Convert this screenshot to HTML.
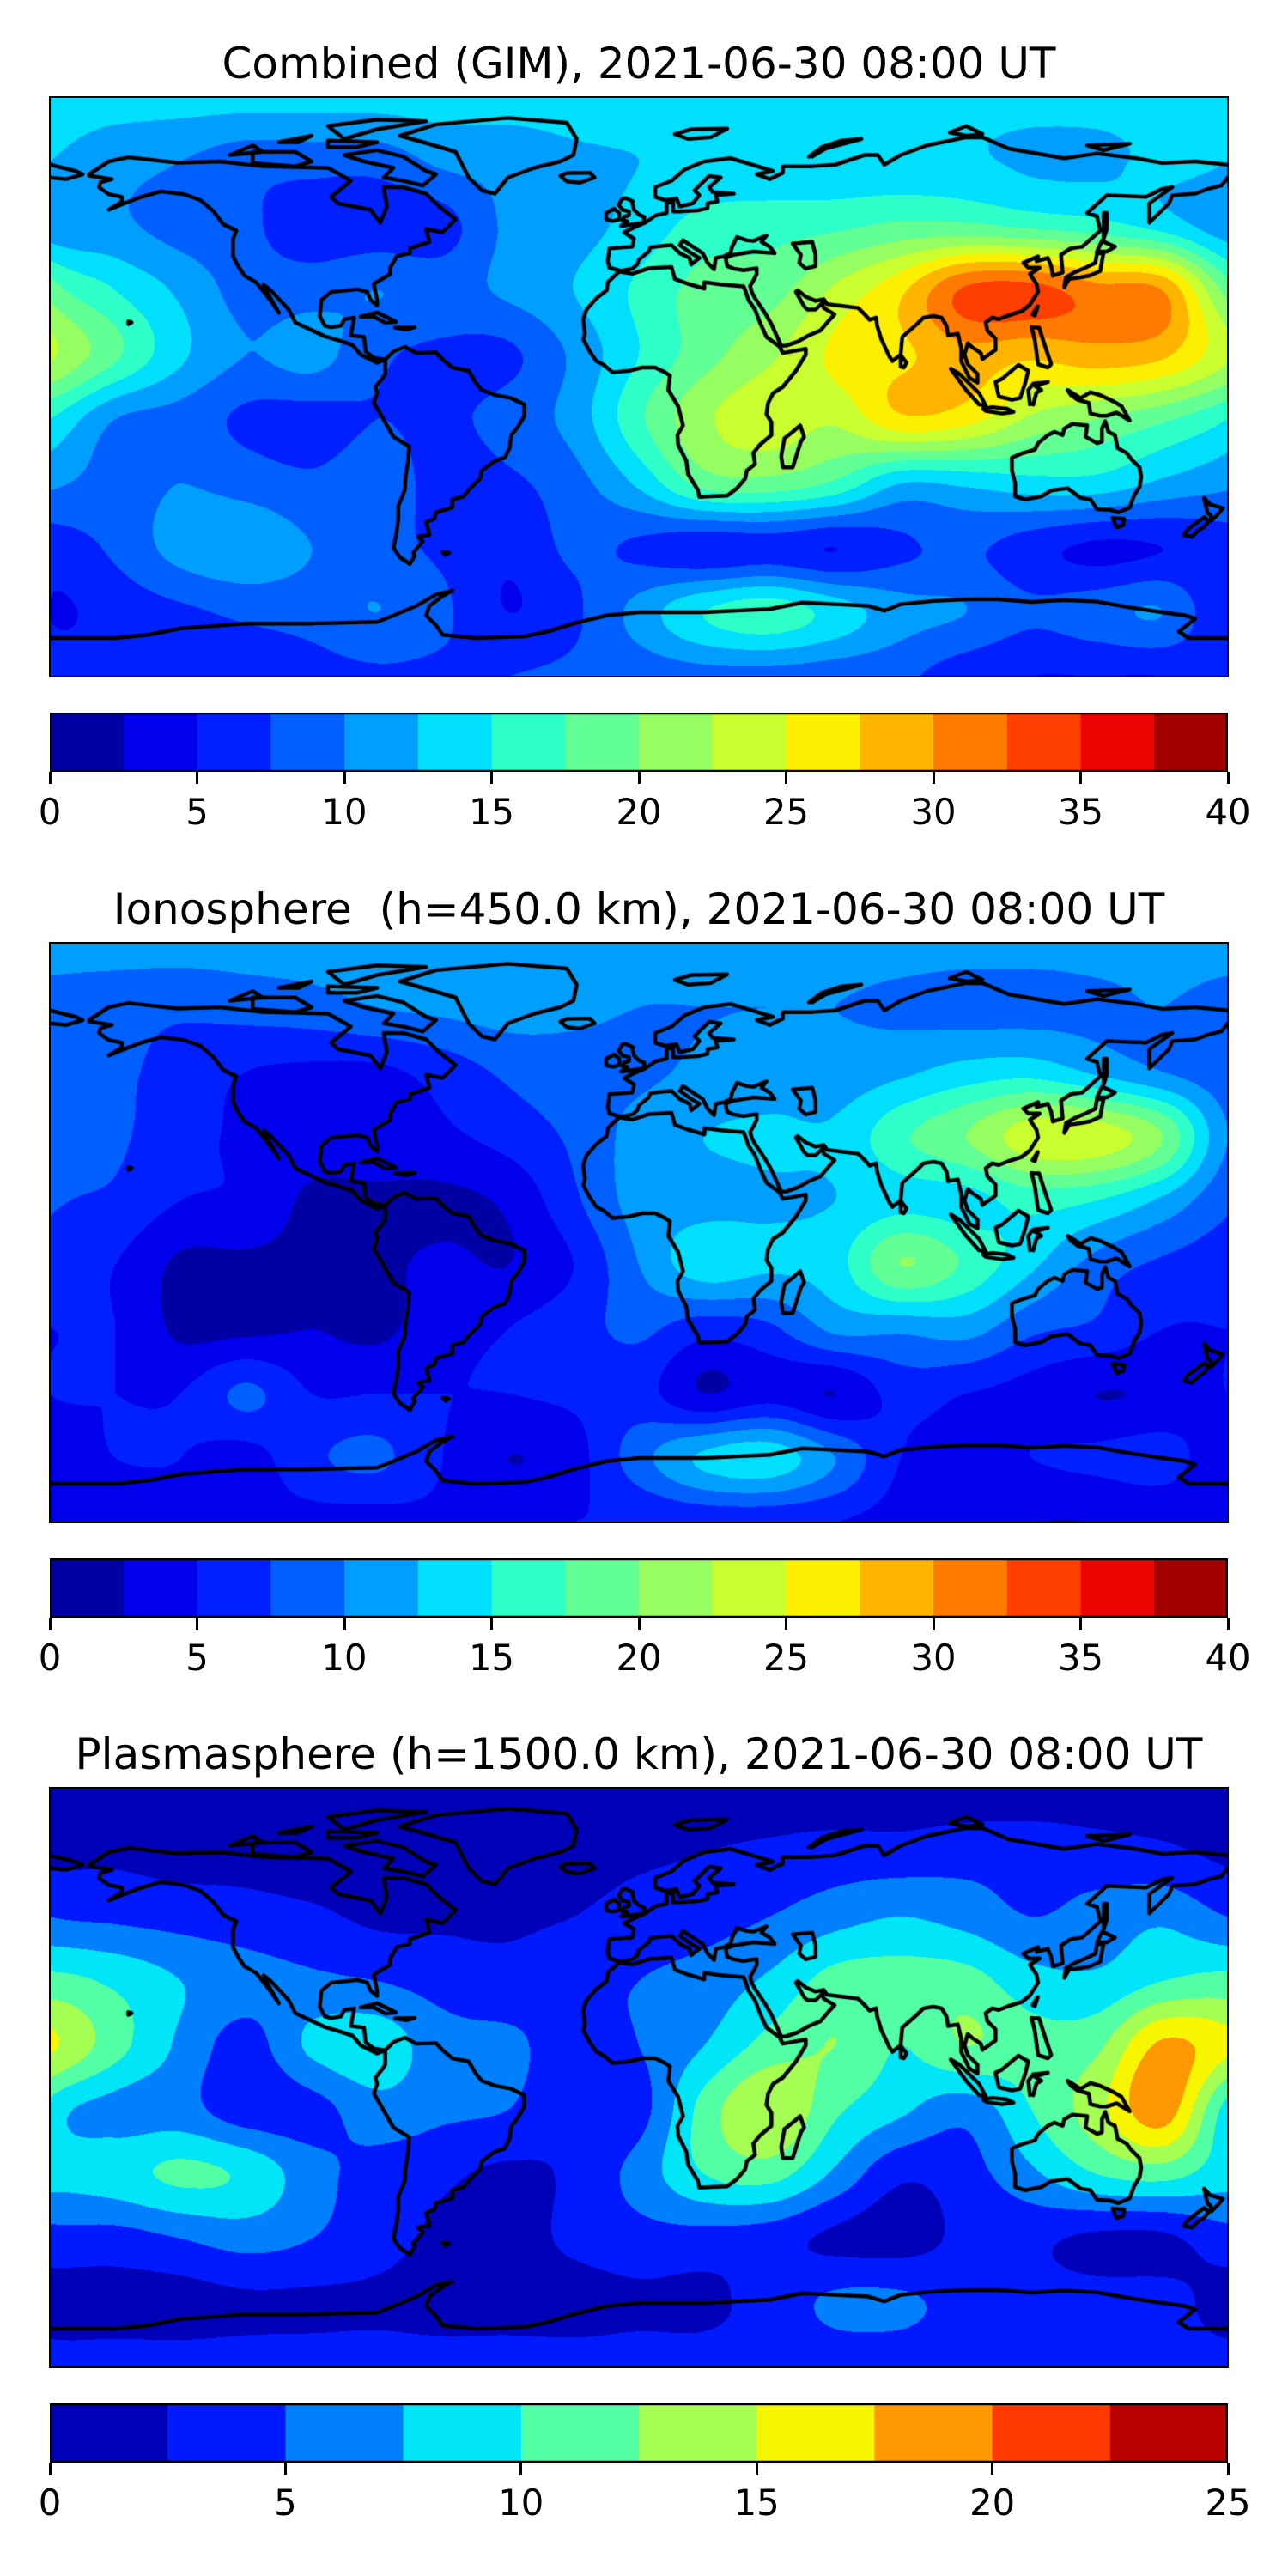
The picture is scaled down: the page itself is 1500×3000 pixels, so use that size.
<!DOCTYPE html>
<html>
<head>
<meta charset="utf-8">
<style>
  html,body{margin:0;padding:0;background:#fff;}
  body{width:1500px;height:3000px;position:relative;overflow:hidden;font-family:"DejaVu Sans","Liberation Sans",sans-serif;color:#000;}
  .title{position:absolute;left:0;width:1488px;text-align:center;font-size:50px;line-height:1.2;white-space:pre;}
  .map{position:absolute;left:58px;width:1372px;height:675px;}
  .map canvas{position:absolute;left:0;top:0;}
  .frame{position:absolute;left:-1px;top:-1px;width:1370px;height:673px;border:2px solid #000;}
  .cbar{position:absolute;left:58px;width:1372px;height:69px;}
  .tick{position:absolute;width:3px;height:14px;background:#000;}
  .tlab{position:absolute;font-size:41.7px;line-height:1.2;transform:translateX(-50%);white-space:nowrap;}
</style>
</head>
<body>
<div id="root"></div>
<script>
// ---------- DATA ----------
const lons = [-180,-160,-140,-120,-100,-80,-60,-40,-20,0,20,40,60,80,100,120,140,160,180];
const lats = [90,70,50,30,10,-10,-30,-50,-70,-90];

const combinedValues = [
 [13.5,13.5,13.5,13.5,13.5,13.5,13.5,13.5,13.5,13.5,13.5,13.5,13.5,13.5,13.5,13.5,13.5,13.5,13.5],
 [12.5,11,10,8.5,8.5,8.5,10.5,11,12,12.5,13,13,13,13,13,12,12,13,12.5],
 [11,10.5,9,8,6,6,6.5,10.5,11.5,13.5,16,16.5,17,18,18,17,16,14,12],
 [19,15,12,9,9,10,9,10.5,12.5,15.5,18.5,19,23,27,33,33.5,31,30,19],
 [23,18,13,10,11,8,7,7,10.5,15,19,22,25.5,27,29,28,29,28,23],
 [15,10,9,7,6.5,7.5,7,8.5,11,17,22,24,23,27,26,22,20,18,15],
 [10.5,9,10,9,8,9,6.5,7,9,13,18.5,19,17,12.5,13,14,14,12,10.5],
 [6,8,11,12,10,8.5,7,5.5,8,7,5.5,6,5,7,8,6,4.5,5,6],
 [5,6,7,8,8.5,10,8,5,7,11,15,16.5,14,11,10,8,9,10,5],
 [6,6,6,6,6.5,7,7,7.5,8,8.5,9,9,8.5,8,6,5,5,5,6]
];
const ionoValues = [
 [11,11,11,11,11,11,11,11,11,11,11,11,11,11,11,11,11,11,11],
 [9,8.5,8,8.5,9,10,10.5,11,10.5,10,10,10,10,9.5,9,9,9.5,10,9],
 [8.5,8,6.5,5,4.5,4.5,6,8,9,9.5,10.5,11,11,12,13.5,14,12,10,8.5],
 [10,8,6,4.5,4,4,4.5,6,8,11,12.5,13,13,17,20,24,24,20,10],
 [8,7,5,4.5,2,2,2,3,7,11,11.5,12,12.5,14,14,16,15,12,8],
 [6,5,2,2,2,2,3,2.5,5,10,14,13,14,20,17,13,9,7,6],
 [5,5,2,2,2.5,2,4,5,6.5,8,6,7,10.5,10.5,11,8,7,5,5],
 [5,5,5,8,5,5,5,5,5.5,6,2.5,4,2.5,6,5,4,2.5,3,5],
 [3.5,5,5,4,7,8,5,2.5,4,9,13,14,10,5,4,5,5.5,6,3.5],
 [3,3,4,4,4,4,4.5,4.5,5,5,5.5,5.5,5,4,3,2.5,2.5,3,3]
];
const plasmaValues = [
 [1,1,1,1,1,1,1,1,1,1,1,1,1,1,1,1,1,1,1],
 [2,2,1.5,1.5,1,1,1,1.5,1.5,2,2.5,3,3.5,3.5,4,4,3.5,3,2],
 [5,4.5,4,3.5,3,2,2,2,2.5,3.5,4,5,6.5,7.5,6.5,5,6,7,5],
 [10.8,9.5,7.5,6,5.5,5,4,3.5,4.5,5,6,8,11,11,11,8.5,8,10,10.8],
 [15.5,11,7,4,8,9,6,5.5,4,5,7.5,11,12.5,10,12.5,11,12,18,15.5],
 [9,6.5,6,3.5,4,6.5,5.5,5,3,4,11,15,10.5,8,6,10,14,19,9],
 [8.5,9,10.5,9.5,6,4,3,2,3,6,10,11,7,3,4,7,10,11,8.5],
 [4,4,5,6,5,3.5,2,1.5,3,4,4,3.5,2,1.5,3,3,2,2,4],
 [1.5,1.5,1.5,2,2,2,1.5,1.5,1.5,2,2,3.5,5.5,5.5,4,3.5,3.5,3.5,1.5],
 [3.5,3.5,3.5,3.5,3.5,3.5,3.5,3.5,3.5,3.5,3.5,3.5,3.5,3.5,3.5,3.5,3.5,3.5,3.5]
];
const levelsCombined = [0,2.5,5,7.5,10,12.5,15,17.5,20,22.5,25,27.5,30,32.5,35,37.5,40];
const levelsIono = [0,2.5,5,7.5,10,12.5,15,17.5,20,22.5,25,27.5,30,32.5,35,37.5,40];
const levelsPlasma = [0,2.5,5,7.5,10,12.5,15,17.5,20,22.5,25];
const ticksCombined = [0,5,10,15,20,25,30,35,40];
const ticksIono = [0,5,10,15,20,25,30,35,40];
const ticksPlasma = [0,5,10,15,20,25];
const titles = ["Combined (GIM), 2021-06-30 08:00 UT","Ionosphere  (h=450.0 km), 2021-06-30 08:00 UT","Plasmasphere (h=1500.0 km), 2021-06-30 08:00 UT"];

// ---------- COASTLINES (lon,lat geometry) ----------
const coasts = [
 [[-168,66],[-162,70],[-156,71.3],[-141,69.6],[-128,70],[-115,68.5],[-95,68],[-88,64],[-94,59],[-92,57],[-82,55],[-79,51],[-77,56],[-78,62],[-72,62],[-65,60],[-61,56],[-56,52],[-60,48],[-65,49],[-64,45],[-70,43],[-70,41.5],[-74,40.5],[-76,37],[-76,35],[-81,32],[-80,27],[-80,25.3],[-82,27],[-83,29.5],[-86,30.3],[-89,30],[-94,29.5],[-97,27],[-97.5,22],[-96,19],[-94,18.5],[-91,19],[-90,21],[-87,21.5],[-88,16],[-84,15.5],[-83.5,11],[-81,9],[-77.5,8.5],[-80,7.5],[-82,8.5],[-85,10],[-87.5,13],[-92,14.5],[-96,15.7],[-105,20],[-107,24],[-112.5,30],[-114.7,31.7],[-114,30],[-110,23],[-112,26],[-115,30],[-117,32.5],[-120.5,34.5],[-122.5,37.5],[-124,40.5],[-124,46],[-123,48.5],[-127,50.5],[-130,54.5],[-134,58],[-139,59.8],[-146,60.7],[-152,59],[-156,57.5],[-162,55],[-158,57.5],[-158,59],[-162,59.8],[-165,62],[-164.5,63.5],[-161,64.5],[-168,65.6]],
 [[-90,72],[-80,73.5],[-72,71.5],[-65,67],[-62,66],[-66,62.5],[-72,64],[-78,65],[-75,68],[-84,70],[-90,72]],
 [[-118,73],[-105,73],[-100,70],[-105,68.5],[-118,69.5],[-118,73]],
 [[-90,77],[-80,80],[-65,82.5],[-80,83],[-95,81],[-90,77]],
 [[-125,72],[-118,75],[-115,73],[-125,72]],
 [[-95,76.5],[-80,76],[-86,74.5],[-95,74.5],[-95,76.5]],
 [[-110,76],[-100,78],[-104,76],[-110,76]],
 [[-73,78],[-62,81.5],[-40,83.5],[-22,82],[-19,77],[-20,72],[-24,70],[-32,68],[-40,65],[-44,60],[-48,61],[-52,65],[-54,69],[-56,73],[-66,76],[-73,78]],
 [[-24,65.5],[-22,66.4],[-15,66.5],[-13.5,65],[-18,63.4],[-22,63.8],[-24,65.5]],
 [[-85,21.8],[-80,23.1],[-74.2,20.2],[-77.5,19.9],[-81,21.8],[-85,21.8]],
 [[-74.5,18.4],[-68.5,18.5],[-71,17.8],[-74.5,18.4]],
 [[-156,19.5],[-155,20],[-156,20.3],[-156,19.5]],
 [[-77.5,8.5],[-75,11],[-71.5,12.4],[-68,10.5],[-62,10.7],[-60,8.5],[-57,6],[-52,5],[-50,1.5],[-48,-1],[-44,-2.5],[-39,-3.5],[-35,-5.5],[-35,-9],[-37,-12.5],[-39,-15],[-39.5,-19],[-41,-22],[-44,-23],[-48,-26],[-48.5,-28.5],[-52,-32],[-53.5,-34],[-57,-35],[-57,-37.5],[-62,-39],[-62.5,-41],[-65,-42],[-64,-46],[-67.5,-46.5],[-66,-48],[-69,-51.5],[-68.5,-52.5],[-70,-55],[-73,-53],[-75,-50],[-74,-45],[-73.5,-41],[-73.5,-37],[-71.5,-32],[-71.3,-28],[-70.5,-23],[-70.2,-18.5],[-75,-15.5],[-77,-12],[-79.5,-7.5],[-81,-5],[-80,-2],[-80.5,0],[-78.5,2.5],[-77.5,4],[-77.5,6.5],[-77.5,8.5]],
 [[-60,-51.3],[-58,-51.5],[-59,-52.2],[-60,-51.3]],
 [[-17,21],[-16,24],[-13,27.5],[-9.8,30],[-9.5,32.5],[-6,35.8],[-2,35.1],[3,36.8],[10,37.2],[11,33.5],[15,32],[20,30.5],[20,32.5],[25,31.8],[32,31.2],[32.5,30],[33.5,27],[35.5,24],[37,20],[39,15.5],[43,12.5],[44,10.5],[51,11.8],[51,10],[48,5],[44,0],[41,-2],[39.5,-5],[39,-8.5],[40.5,-11],[40.5,-15],[37,-18],[35,-20.5],[35.5,-24],[33,-26],[32.5,-28.5],[30,-31.5],[27,-33.8],[22,-34],[18.5,-34.2],[18,-32],[15,-27],[14.5,-23],[12,-18],[11.8,-15],[13.5,-12],[12,-6],[9,-1],[9.5,3.5],[8,4.5],[5,6],[1,6],[-3,5],[-8,4.5],[-11,7],[-13,8],[-15,11],[-17,14.7],[-16.5,16.5],[-17,21]],
 [[49.3,-12],[50.5,-15.5],[49.5,-17],[47,-25],[44,-25],[43.5,-21.5],[44.5,-16],[47,-14],[49.3,-12]],
 [[-9,37],[-9.5,39],[-9,43],[-2,43.5],[-1.5,46],[-4.5,48],[-1.5,49.5],[2,51],[5,53.2],[8.5,54],[8.5,57],[10.5,57.7],[10.5,54.5],[13,54.5],[18,54.8],[21,55.5],[21,57],[24,57.5],[23.5,59.5],[29,60],[22.5,60.5],[21.5,62],[25,65],[21.5,65.5],[17,61],[18.5,59.5],[16.5,57],[12.5,56],[11.5,58.5],[8,58],[5,59],[5,62],[10,64],[14,67.5],[20,70],[28,71],[33,69.5],[41,67],[36,66],[40,64.5],[44,66.5],[44,68.5],[53,68.5],[60,69],[69,72],[73,72],[75,69],[80,72],[88,75],[100,77.5],[105,77.5],[113,74],[130,71],[140,72.5],[152,71],[160,69.5],[170,70],[180,69]],
 [[-180,69],[-172,67],[-170,66],[-175,64.5],[-180,65]],
 [[180,65],[178,62.5],[174,61.5],[170,60],[163,59.5],[162,57],[156,51],[156,57],[163,62],[160,61.5],[155,59],[143,59.5],[137,54],[140,53],[141,48.5],[135.5,43.5],[132,43],[129,41],[129.5,35.5],[126.5,34.5],[126,37.5],[125,40],[121.5,39],[122,40.5],[117.5,38.5],[119,37],[122.5,37],[119.5,35],[121.5,32],[122,29.5],[119.5,25.5],[117,23.5],[113,22.2],[110,21],[108,21.5],[106,20],[106.5,17.5],[109,15],[109,11.5],[105,8.6],[104.5,10.5],[102,12.2],[100.5,13.5],[99.5,10],[100.5,7],[103.5,4],[103.5,1.3],[101,2.8],[98.5,8],[98.5,12],[97.5,16.5],[94.5,16],[94,19],[92.5,21.5],[90,22],[87,21.5],[85,19.5],[80.5,15.5],[80,10],[77.5,8],[76.5,9.5],[74,15],[72.8,19],[72.5,21.5],[70.5,20.8],[69,22.5],[67,24.5],[61.5,25.2],[57.5,25.7],[56.5,27.2],[54,26.7],[51,28],[48.5,30],[48,29.5],[50.5,25],[51.5,24],[54,24],[56,26],[56.5,24.5],[59.8,22.5],[58,20.5],[55.5,17.5],[52,16],[48.5,14],[45,12.8],[43.5,12.7],[42.5,15],[40.5,19.5],[38.5,23],[35.2,28],[34.5,29.5],[34,31.3],[35,33],[36,35],[36,36.8],[32,36.2],[29,36.7],[27,37.5],[26.5,40],[29,41],[35,42],[41.5,41.5],[40,43.5],[37.5,45],[39,47],[35,45.3],[33,45.5],[30,46.5],[28.5,43.5],[28,41.5],[26,40.5],[23.5,40],[23,36.5],[21,38.5],[19.5,41.5],[16.5,43.5],[13.5,45.5],[12.5,44],[16,41.5],[18.5,40],[16,38],[15.5,40],[12.5,41.5],[10,44],[7.5,43.8],[3.5,43.3],[3,42],[0,39.5],[-0.5,38],[-2,36.7],[-5.5,36],[-9,37]],
 [[47,44.5],[53,45],[54,41],[54,37.5],[51,36.7],[49,38.5],[49.5,41],[47,44.5]],
 [[-5,50],[1.5,51],[1.7,52.7],[0,53.5],[-1.5,55],[-2,57],[-1.8,57.6],[-4,58.6],[-5,58.5],[-6.2,56.5],[-5,55],[-3,54.5],[-3,53.3],[-4.5,52.8],[-5,51.7],[-3.5,51.4],[-5.5,50],[-5,50]],
 [[-6,52],[-6,54],[-7.5,55.3],[-10,54],[-10,52],[-8,51.5],[-6,52]],
 [[130,31],[131.5,33.5],[135,34],[138,34.6],[141,36],[141.5,39],[142,41.5],[140,41.5],[139.5,38.5],[136.5,37],[133,35.5],[130.5,34],[130,31]],
 [[140,42],[141.5,45.3],[145.5,43.5],[143,42],[140,42]],
 [[142,46],[143,49],[143,54],[142,54],[142,46]],
 [[120.3,22.5],[121.9,25],[121,22.2],[120.3,22.5]],
 [[120,18.5],[122.3,18.4],[124,13],[126,7],[125,6],[122,7],[121,14.5],[120,18.5]],
 [[109,1.5],[111,2.5],[116,6.8],[119,5],[118,1],[116.5,-3.5],[114,-4],[110,-3],[109,1.5]],
 [[95.3,5.6],[98,4],[104,-2],[106,-5.8],[104,-5.5],[100,-1],[95.3,5.6]],
 [[105.2,-6.8],[108,-6.3],[112.5,-6.8],[114.5,-7.8],[111,-8.3],[106,-7.5],[105.2,-6.8]],
 [[119.5,-5.5],[119,-1],[120.5,1],[125,1.5],[121,0.3],[123,-1],[121.5,-1.8],[120.5,-5.5]],
 [[131,-1],[135,-3.5],[138,-1.7],[141,-2.6],[145,-4.5],[147.5,-6],[150,-10.5],[146,-8],[143,-9],[141,-9],[138,-8.3],[137.5,-5],[134,-4],[132,-2.5],[131,-1]],
 [[80,9.8],[81.8,7.5],[81,6],[80,6.3],[80,9.8]],
 [[52,71.5],[56,74.5],[62,76.5],[68,77],[57,74],[53,71.5]],
 [[11,78.5],[16,80],[27,80.2],[22,77.5],[15,77],[11,78.5]],
 [[95,79],[100,81],[105,78.5],[100,78],[95,79]],
 [[137,75],[150,75.5],[142,73.5],[137,75]],
 [[114,-22],[114,-26],[115,-30],[115,-34],[118,-35],[123,-34],[126,-32.2],[131,-31.5],[135,-34.5],[138,-35],[140,-38],[144,-38.2],[146.5,-39],[150,-37.5],[151.3,-33.8],[153,-31],[153.5,-28],[153,-25],[150.5,-22.5],[149,-20.5],[146.3,-19],[145.5,-15],[143.5,-14],[142.5,-10.7],[141.5,-13],[141.5,-17],[140,-17.5],[136.5,-15.5],[137,-12],[132.5,-11.5],[130,-13],[129.5,-15],[127,-14],[125,-15],[122,-17.5],[121,-19.5],[117,-20.7],[114,-22]],
 [[144.7,-40.7],[148.3,-41],[148,-43],[146,-43.6],[144.7,-40.7]],
 [[172.7,-34.5],[174.5,-36.5],[178.5,-37.7],[177,-39.5],[175,-41.5],[174.7,-39.8],[173.8,-39.2],[172.7,-34.5]],
 [[172.7,-40.5],[174.2,-41.7],[172.7,-43.5],[171,-44.5],[169,-46.6],[166.5,-46],[168,-44],[172.7,-40.5]],
 [[-180,-78],[-160,-78],[-150,-77],[-140,-75],[-120,-73.5],[-100,-73.5],[-80,-73],[-75,-71],[-68,-68],[-62,-64.5],[-57,-63.3],[-60,-65],[-64,-68],[-65,-71],[-62,-74],[-60,-77],[-50,-78],[-35,-77.5],[-28,-76],[-20,-73.5],[-10,-71],[0,-70],[10,-70],[20,-70],[30,-69.5],[40,-69],[50,-67],[60,-67.5],[70,-68],[75,-69.5],[80,-67.5],[90,-66.5],[100,-66],[110,-66],[120,-66.8],[130,-66.2],[140,-66.7],[150,-68.5],[160,-70],[167,-71],[170,-72],[165,-76],[168,-78],[180,-78]]
];

// ---------- HELPERS ----------
const MAP_W = 1372, MAP_H = 675, MAP_X = 58;
const panelTops = [113, 1098, 2082];
function xOfLon(lon){ return (lon + 180) / 360 * MAP_W; }
function yOfLat(lat){ return (90 - lat) / 180 * MAP_H; }

function interp(pts, x){
  for (let i=0;i<pts.length-1;i++){
    const a=pts[i], b=pts[i+1];
    if (x<=b[0]) return a[1] + (b[1]-a[1])*(x-a[0])/(b[0]-a[0]);
  }
  return pts[pts.length-1][1];
}
function jet(x){
  const r = interp([[0,0],[0.35,0],[0.66,1],[0.89,1],[1,0.5]], x);
  const g = interp([[0,0],[0.125,0],[0.375,1],[0.64,1],[0.91,0],[1,0]], x);
  const b = interp([[0,0.5],[0.11,1],[0.34,1],[0.65,0],[1,0]], x);
  return [Math.round(r*255), Math.round(g*255), Math.round(b*255)];
}
function cr(p0,p1,p2,p3,t){
  return 0.5*((2*p1) + (-p0+p2)*t + (2*p0-5*p1+4*p2-p3)*t*t + (-p0+3*p1-3*p2+p3)*t*t*t);
}
function sample(grid, gx, gy){
  const nr = grid.length, nc = grid[0].length;
  const ix = Math.floor(gx), iy = Math.floor(gy);
  const tx = gx-ix, ty = gy-iy;
  const col = (c)=>{ const n = nc-1; return ((c % n) + n) % n; };
  const row = (r)=> Math.max(0, Math.min(nr-1, r));
  const vals = [];
  for (let j=-1;j<=2;j++){
    const rr = grid[row(iy+j)];
    vals.push(cr(rr[col(ix-1)], rr[col(ix)], rr[col(ix+1)], rr[col(ix+2)], tx));
  }
  return cr(vals[0],vals[1],vals[2],vals[3],ty);
}

function buildPanel(k, grid, levels, ticks, title){
  const root = document.getElementById('root');
  const T = panelTops[k];
  const n = levels.length - 1;
  const vmin = levels[0], vmax = levels[n], step = (vmax - vmin)/n;

  const t = document.createElement('div');
  t.className = 'title';
  t.style.top = (T - 40 - 29) + 'px';
  t.textContent = title;
  
  
  root.appendChild(t);

  const map = document.createElement('div');
  map.className = 'map';
  map.style.top = T + 'px';
  
  
  const cv = document.createElement('canvas');
  cv.width = MAP_W; cv.height = MAP_H;
  
  
  map.appendChild(cv);
  const ctx = cv.getContext('2d');
  const img = ctx.createImageData(MAP_W, MAP_H);
  const colors = [];
  for (let i=0;i<n;i++) colors.push(jet((i+0.5)/n));
  const dLon = lons[1]-lons[0], dLat = lats[0]-lats[1];
  for (let py=0; py<MAP_H; py++){
    const lat = 90 - (py+0.5)/MAP_H*180;
    const gy = (lats[0]-lat)/dLat;
    for (let px=0; px<MAP_W; px++){
      const lon = -180 + (px+0.5)/MAP_W*360;
      const gx = (lon-lons[0])/dLon;
      const v = sample(grid, gx, gy);
      let li = Math.floor((v - vmin)/step);
      if (li<0) li=0; if (li>n-1) li=n-1;
      const c = colors[li], o = (py*MAP_W+px)*4;
      img.data[o]=c[0]; img.data[o+1]=c[1]; img.data[o+2]=c[2]; img.data[o+3]=255;
    }
  }
  ctx.putImageData(img,0,0);
  ctx.strokeStyle = '#000'; ctx.lineWidth = 4.5; ctx.lineJoin='round'; ctx.lineCap='round';
  coasts.forEach(poly=>{
    ctx.beginPath();
    poly.forEach((p,i)=>{ const x=xOfLon(p[0]), y=yOfLat(p[1]); if(i===0) ctx.moveTo(x,y); else ctx.lineTo(x,y); });
    ctx.stroke();
  });
  const fr = document.createElement('div');
  fr.className = 'frame';
  
  
  map.appendChild(fr);
  root.appendChild(map);

  const cbTop = T + 717;
  const cb = document.createElement('div');
  cb.className = 'cbar';
  cb.style.top = cbTop + 'px';
  
  
  const svgNS = 'http://www.w3.org/2000/svg';
  const svg = document.createElementNS(svgNS, 'svg');
  svg.setAttribute('width', MAP_W); svg.setAttribute('height', 69);
  svg.style.position='absolute'; svg.style.left='0'; svg.style.top='0';
  const cx = (v)=> (v - vmin)/(vmax - vmin) * MAP_W;
  for (let i=0;i<n;i++){
    const r = document.createElementNS(svgNS,'rect');
    const x0 = cx(levels[i]), x1 = cx(levels[i+1]);
    r.setAttribute('x', x0); r.setAttribute('y', 0);
    r.setAttribute('width', x1-x0+0.5); r.setAttribute('height', 69);
    const c = colors[i];
    r.setAttribute('fill', 'rgb('+c[0]+','+c[1]+','+c[2]+')');
    
    
    svg.appendChild(r);
  }
  const bd = document.createElementNS(svgNS,'rect');
  bd.setAttribute('x',1); bd.setAttribute('y',1); bd.setAttribute('width',MAP_W-2); bd.setAttribute('height',67);
  bd.setAttribute('fill','none'); bd.setAttribute('stroke','#000'); bd.setAttribute('stroke-width',2.5);
  
  
  svg.appendChild(bd);
  cb.appendChild(svg);
  root.appendChild(cb);

  ticks.forEach(v=>{
    const x = MAP_X + cx(v);
    const tk = document.createElement('div');
    tk.className = 'tick';
    tk.style.left = (x - 1.5) + 'px';
    tk.style.top = (cbTop + 69) + 'px';
    
    
    root.appendChild(tk);
    const lb = document.createElement('div');
    lb.className = 'tlab';
    lb.style.left = x + 'px';
    lb.style.top = (T + 832 - 24) + 'px';
    lb.textContent = String(v);
    
    
    root.appendChild(lb);
  });
}

buildPanel(0, combinedValues, levelsCombined, ticksCombined, titles[0]);
buildPanel(1, ionoValues, levelsIono, ticksIono, titles[1]);
buildPanel(2, plasmaValues, levelsPlasma, ticksPlasma, titles[2]);
</script>
</body>
</html>
